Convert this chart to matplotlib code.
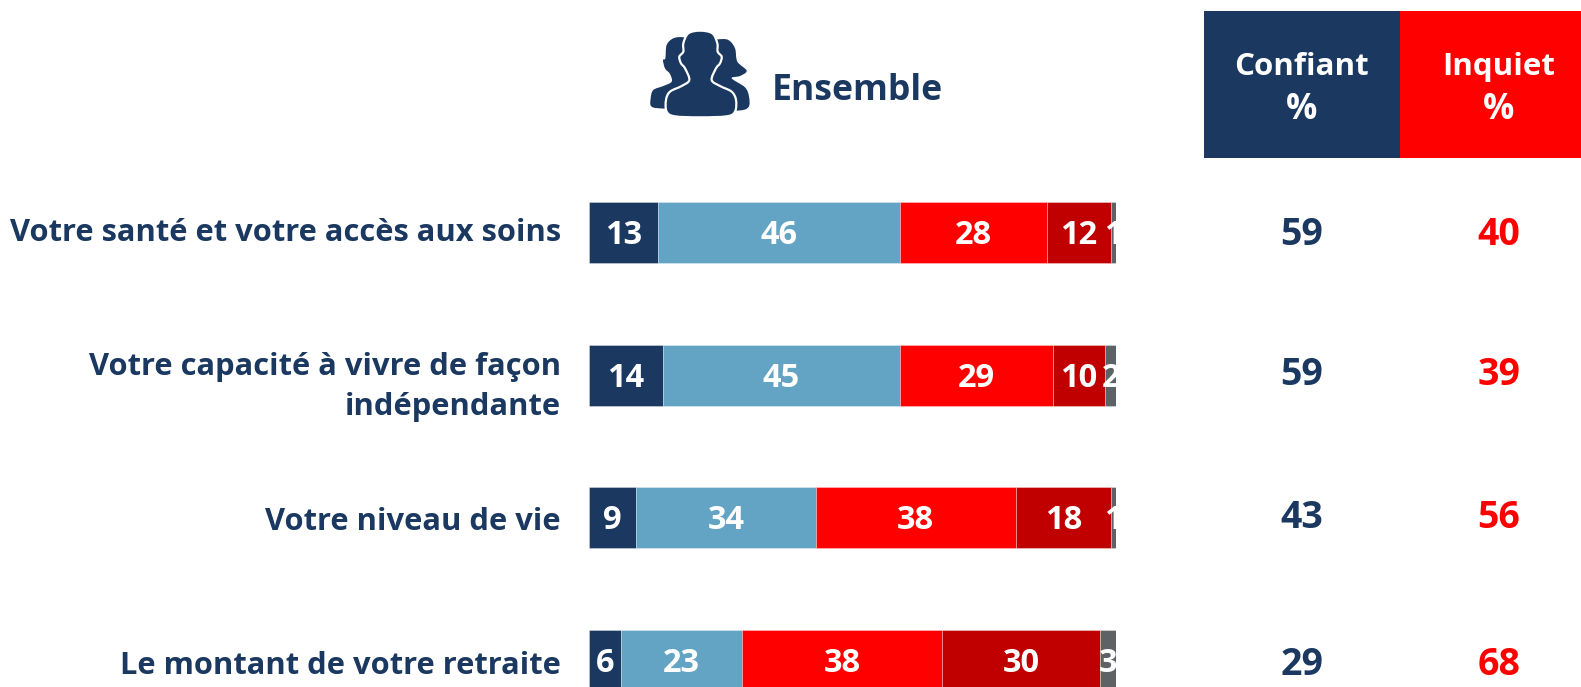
import numpy as np
import matplotlib
matplotlib.use("Agg")
import matplotlib.pyplot as plt
from matplotlib.patches import PathPatch, Rectangle
from matplotlib.path import Path

plt.rcParams['font.family'] = ['Open Sans', 'DejaVu Sans']

# donnees
labels = ["Votre santé et votre accès aux soins",
          "Votre capacité à vivre de façon\nindépendante",
          "Votre niveau de vie",
          "Le montant de votre retraite"]
tres_confiant = [13, 14, 9, 6]
plutot_confiant = [46, 45, 34, 23]
plutot_inquiet = [28, 29, 38, 38]
tres_inquiet = [12, 10, 18, 30]
nsp = [1, 2, 1, 3]
confiant = [59, 59, 43, 29]
inquiet = [40, 39, 56, 68]

series = [tres_confiant, plutot_confiant, plutot_inquiet, tres_inquiet, nsp]
colors = ['#1A3860', '#63A3C3', '#FF0000', '#C00000', '#5F6265']

NAVY = '#1A3860'
W, H = 1581, 687

fig = plt.figure(figsize=(W / 100, H / 100), dpi=100, facecolor='white')

# fond en pixels pour tout ce qui n'est pas les barres
bg = fig.add_axes([0, 0, 1, 1])
bg.set_xlim(0, W)
bg.set_ylim(H, 0)
bg.axis('off')

# axe des barres : 1 unite en y = 142.7 px, rangee 0 centree sur y=232.5
ax = fig.add_axes([589 / W, 0, (1116 - 589) / W, 1])
ax.set_xlim(0, 100)
ax.set_ylim((H - 232.5) / 142.7, -232.5 / 142.7)
ax.axis('off')

y = np.arange(len(labels))
left = np.zeros(len(labels))
for vals, col in zip(series, colors):
    ax.barh(y, vals, left=left, height=61 / 142.7, color=col,
            edgecolor='#ffffff60', linewidth=0.6)
    for yi, l, v in zip(y, left, vals):
        ax.text(l + v / 2, yi + 0.02, str(v), color='white', fontsize=23.5,
                fontweight='bold', ha='center', va='center', clip_on=True)
    left += np.array(vals)

# libelles a gauche
label_y = [233, 387, 522, 666]
for txt, yy in zip(labels, label_y):
    bg.text(561, yy, txt, color=NAVY, fontsize=22.2, fontweight='bold',
            ha='right', va='center', linespacing=1.42, multialignment='right')

# colonnes de droite
col_y = [235, 375, 518, 665]
for c, i, yy in zip(confiant, inquiet, col_y):
    bg.text(1302, yy, str(c), color=NAVY, fontsize=27, fontweight='bold',
            ha='center', va='center')
    bg.text(1499, yy, str(i), color='#FF0000', fontsize=27, fontweight='bold',
            ha='center', va='center')

# entetes
bg.add_patch(Rectangle((1204, 11), 196, 147, color=NAVY, lw=0))
bg.add_patch(Rectangle((1400, 11), 181, 147, color='#FF0000', lw=0))
bg.text(1302, 67, "Confiant", color='white', fontsize=22.5, fontweight='bold',
        ha='center', va='center')
bg.text(1302, 110, "%", color='white', fontsize=25, fontweight='bold',
        ha='center', va='center')
bg.text(1499, 67, "Inquiet", color='white', fontsize=22.5, fontweight='bold',
        ha='center', va='center')
bg.text(1499, 110, "%", color='white', fontsize=25, fontweight='bold',
        ha='center', va='center')

bg.text(772, 91, "Ensemble", color=NAVY, fontsize=25.6, fontweight='bold',
        ha='left', va='center')


# icone : points relus sur le zoom (x3, origine 620,0), courbe qui passe par les points
def icon_path(pts):
    p = np.array(pts, dtype=float) / 3 + [620, 0]
    verts = [p[0]]
    codes = [Path.MOVETO]
    n = len(p) - 1
    for i in range(n):
        p0, p1, p2, p3 = p[(i - 1) % n], p[i], p[i + 1], p[(i + 2) % n]
        verts += [p1 + (p2 - p0) / 6, p2 - (p3 - p1) / 6, p2]
        codes += [Path.CURVE4] * 3
    return Path(verts, codes)


back_left = [(225, 125), (190, 112), (160, 115), (140, 135), (136, 175), (129, 180),
             (135, 205), (150, 222), (155, 245), (130, 258), (100, 270), (92, 295),
             (95, 320), (135, 326), (240, 330), (240, 200), (225, 125)]
back_right = [(260, 125), (295, 118), (325, 120), (345, 145), (352, 185), (380, 212),
              (360, 228), (335, 235), (375, 262), (387, 290), (385, 322), (350, 332),
              (240, 332), (240, 200), (260, 125)]
front = [(240, 92), (205, 100), (190, 130), (190, 155), (178, 170), (183, 190),
         (195, 205), (208, 240), (185, 258), (150, 275), (138, 300), (140, 335),
         (165, 349), (240, 352), (320, 349), (345, 335), (348, 300), (335, 275),
         (300, 258), (275, 240), (288, 205), (300, 190), (305, 170), (293, 155),
         (292, 130), (277, 100), (240, 92)]
bg.add_patch(PathPatch(icon_path(back_left), fc=NAVY, lw=0))
bg.add_patch(PathPatch(icon_path(back_right), fc=NAVY, lw=0))
bg.add_patch(PathPatch(icon_path(front), fc=NAVY, ec='white', lw=1.6))

fig.savefig('out.png', dpi=100, facecolor='white')
